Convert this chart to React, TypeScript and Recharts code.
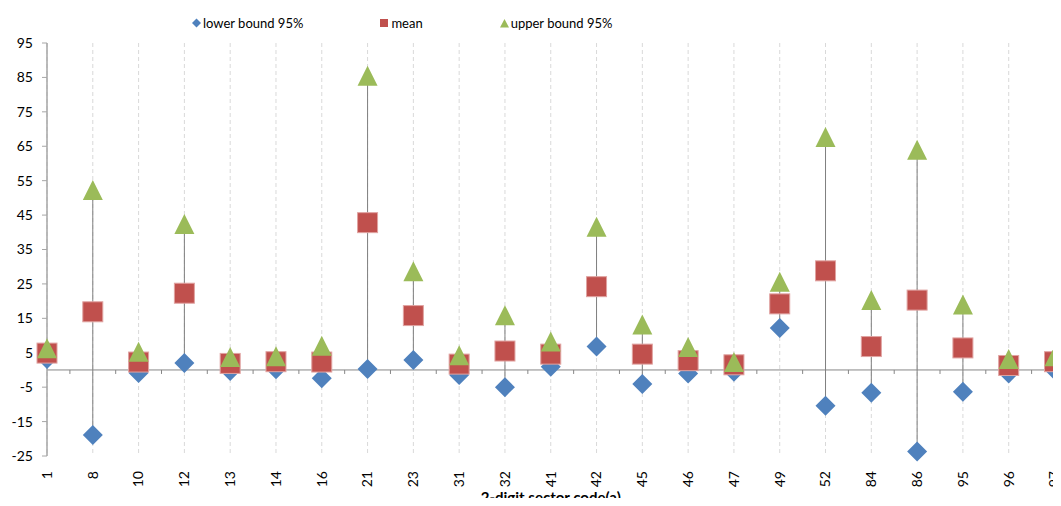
import React from "react";
import { ComposedChart, Line, XAxis, YAxis, CartesianGrid, ReferenceLine, ErrorBar, Legend } from "recharts";

const codes = ["1", "8", "10", "12", "13", "14", "16", "21", "23", "31", "32", "41", "42", "45", "46", "47", "49", "52", "84", "86", "95", "96", "97"];
const lowerBound = [3.2, -18.9, -0.9, 2.0, -0.3, 0.2, -2.4, 0.3, 2.9, -1.5, -5.0, 0.9, 6.8, -4.1, -1.0, -0.5, 12.2, -10.4, -6.6, -23.7, -6.3, -1.0, 0.0];
const meanValues = [4.9, 16.9, 2.3, 22.3, 1.9, 2.4, 2.3, 42.8, 15.8, 1.7, 5.5, 4.6, 24.2, 4.6, 2.7, 1.5, 19.2, 28.8, 6.8, 20.3, 6.4, 1.3, 2.4];
const upperBound = [6.3, 52.3, 5.3, 42.4, 3.8, 4.0, 7.0, 85.5, 28.7, 4.3, 15.9, 8.3, 41.6, 13.2, 6.7, 2.3, 25.6, 67.7, 20.3, 64.0, 19.0, 3.2, 4.0];
const yTicks = [95, 85, 75, 65, 55, 45, 35, 25, 15, 5, -5, -15, -25];

const FONT = "Lato, 'Liberation Sans', sans-serif";
const BLUE = "#4f81bd";
const RED = "#c0504d";
const GREEN = "#9bbb59";

const data = codes.map((code, i) => ({
  code,
  lower: lowerBound[i],
  mean: meanValues[i],
  upper: upperBound[i],
  range: [meanValues[i] - lowerBound[i], upperBound[i] - meanValues[i]],
}));

const Diamond = (props: any) => {
  const { cx, cy, index } = props;
  if (cx == null || cy == null) return <g key={index} />;
  return <polygon key={index} points={`${cx},${cy - 10} ${cx + 10},${cy} ${cx},${cy + 10} ${cx - 10},${cy}`} fill={BLUE} />;
};

const Square = (props: any) => {
  const { cx, cy, index } = props;
  if (cx == null || cy == null) return <g key={index} />;
  return <rect key={index} x={cx - 10} y={cy - 10} width={20} height={20} fill={RED} stroke="#e0a3a1" strokeWidth={1} />;
};

const Triangle = (props: any) => {
  const { cx, cy, index } = props;
  if (cx == null || cy == null) return <g key={index} />;
  return <polygon key={index} points={`${cx},${cy - 10} ${cx + 10},${cy + 10} ${cx - 10},${cy + 10}`} fill={GREEN} />;
};

// zero line with the small tick marks between categories
const ZeroAxis = (props: any) => {
  const { x1, x2, y1 } = props;
  const step = (x2 - x1) / (codes.length - 1);
  return (
    <g>
      <line x1={x1} y1={y1} x2={x2 + 8} y2={y1} stroke="#868686" strokeWidth={1} />
      {codes.slice(1).map((c, i) => {
        const x = x1 + step * (i + 0.5);
        return <line key={c} x1={x} y1={y1} x2={x} y2={y1 + 4} stroke="#868686" strokeWidth={1} />;
      })}
    </g>
  );
};

const RotatedTick = (props: any) => {
  const { x, y, payload } = props;
  return (
    <text
      x={x}
      y={y}
      transform={`rotate(-90, ${x}, ${y})`}
      textAnchor="end"
      dy="0.35em"
      fontFamily={FONT}
      fontSize={14}
      fill="#000"
    >
      {payload.value}
    </text>
  );
};

const legendItems = [
  { label: "lower bound 95%", shape: "diamond", color: BLUE },
  { label: "mean", shape: "square", color: RED },
  { label: "upper bound 95%", shape: "triangle", color: GREEN },
];

const LegendContent = () => (
  <div style={{ display: "flex", alignItems: "center", fontFamily: FONT, fontSize: 13, color: "#000", whiteSpace: "nowrap" }}>
    {legendItems.map((item) => (
      <div key={item.label} style={{ display: "flex", alignItems: "center", marginRight: 77 }}>
        <svg width={9} height={10} style={{ marginRight: 2 }}>
          {item.shape === "diamond" && <polygon points="4.5,0.5 9,5 4.5,9.5 0,5" fill={item.color} />}
          {item.shape === "square" && <rect x={0} y={1} width={8} height={8} fill={item.color} />}
          {item.shape === "triangle" && <polygon points="4.5,1 9,9.5 0,9.5" fill={item.color} />}
        </svg>
        <span>{item.label}</span>
      </div>
    ))}
  </div>
);

export default function App() {
  return (
    <div style={{ margin: -8, width: 1061, height: 506, overflow: "hidden" }}>
      <ComposedChart width={1061} height={506} data={data} margin={{ top: 43, right: 6.5, bottom: 0, left: 0 }}>
        <CartesianGrid horizontal={false} stroke="#d9d9d9" strokeDasharray="4 3" />
        <XAxis
          dataKey="code"
          type="category"
          scale="point"
          interval={0}
          axisLine={false}
          tickLine={false}
          height={50}
          tickMargin={9}
          tick={<RotatedTick />}
          label={{ value: "2-digit sector code(a)", position: "insideBottom", offset: 3, fontFamily: FONT, fontSize: 15, fontWeight: 700, fill: "#000" }}
        />
        <YAxis
          type="number"
          domain={[-25, 95]}
          ticks={yTicks}
          interval={0}
          width={47}
          axisLine={{ stroke: "#a6a6a6", strokeWidth: 1.5 }}
          tickLine={{ stroke: "#a6a6a6" }}
          tickSize={5}
          tickMargin={9}
          tick={{ fontFamily: FONT, fontSize: 14, fill: "#000" }}
        />
        <ReferenceLine y={0} shape={<ZeroAxis />} />
        <Legend verticalAlign="middle" align="center" wrapperStyle={{ top: 15, left: 192, width: "auto" }} content={<LegendContent />} />
        <Line dataKey="mean" stroke="none" dot={false} activeDot={false} isAnimationActive={false} legendType="none">
          <ErrorBar dataKey="range" width={0} stroke="#7f7f7f" strokeWidth={1} direction="y" />
        </Line>
        <Line dataKey="lower" stroke="none" dot={<Diamond />} activeDot={false} isAnimationActive={false} />
        <Line dataKey="mean" stroke="none" dot={<Square />} activeDot={false} isAnimationActive={false} />
        <Line dataKey="upper" stroke="none" dot={<Triangle />} activeDot={false} isAnimationActive={false} />
      </ComposedChart>
    </div>
  );
}
